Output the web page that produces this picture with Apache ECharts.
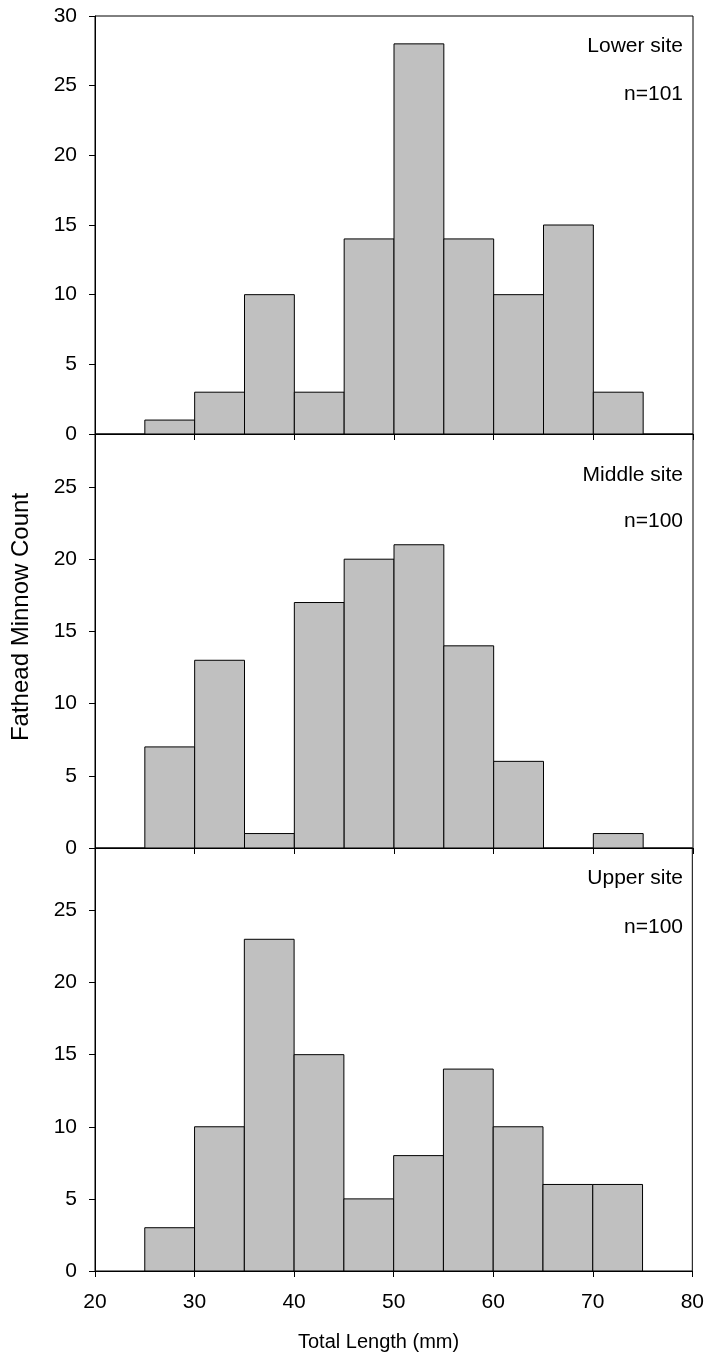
<!DOCTYPE html>
<html>
<head>
<meta charset="utf-8">
<script src="https://cdn.jsdelivr.net/npm/echarts@6/dist/echarts.min.js"></script>
<style>
html,body{margin:0;padding:0;background:#fff;}
#chart{width:707px;height:1360px;}
</style>
</head>
<body>
<div id="chart"></div>
<script>
// ---- data ----
const binStarts = [25, 30, 35, 40, 45, 50, 55, 60, 65, 70];
const binWidth = 5;
const lowerCounts  = [1, 3, 10, 3, 14, 28, 14, 10, 15, 3];
const middleCounts = [7, 13, 1, 17, 20, 21, 14, 6, 0, 1];
const upperCounts  = [3, 10, 23, 15, 5, 8, 14, 10, 6, 6];
const panelNames = ['Lower site', 'Middle site', 'Upper site'];
const panelN = ['n=101', 'n=100', 'n=100'];
const xTicks = [20, 30, 40, 50, 60, 70, 80];
const yMaxes = [30, 28.67, 29.33];

const FONT = '"Liberation Sans", Arial, Helvetica, sans-serif';
const FS = 21;

const grids = [
  {left: 95, right: 14, top: 16, height: 418},
  {left: 95, right: 14, top: 434, height: 414},
  {left: 95, right: 14, top: 848, height: 423}
].map(g => Object.assign(g, {show: true, borderColor: '#000', borderWidth: 1, backgroundColor: 'transparent'}));

const xAxes = grids.map((g, i) => ({
  type: 'value', gridIndex: i, min: xTicks[0], max: xTicks[xTicks.length - 1], interval: 10,
  axisLine: {show: true, onZero: false, lineStyle: {color: '#000', width: 1}},
  axisTick: {show: true, inside: false, length: 6, lineStyle: {color: '#000', width: 1}},
  axisLabel: {show: i === 2, color: '#000', fontSize: FS, fontFamily: FONT, margin: 21},
  splitLine: {show: false}
}));

const yAxes = grids.map((g, i) => ({
  type: 'value', gridIndex: i, min: 0, max: yMaxes[i], interval: 5,
  axisLine: {show: true, lineStyle: {color: '#000', width: 1}},
  axisTick: {show: true, inside: false, length: 6, lineStyle: {color: '#000', width: 1}},
  axisLabel: {show: true, color: '#000', fontSize: FS, fontFamily: FONT, margin: 18,
    formatter: v => (Math.abs(v % 5) < 1e-9 ? String(v) : ''),
    showMaxLabel: i === 0},
  splitLine: {show: false}
}));

function histSeries(counts, idx) {
  return {
    type: 'custom', xAxisIndex: idx, yAxisIndex: idx,
    data: binStarts.map((b, k) => [b, b + binWidth, counts[k]]),
    renderItem: function (params, api) {
      const c = api.value(2);
      if (!c) return null;
      const p0 = api.coord([api.value(0), c]);
      const p1 = api.coord([api.value(1), 0]);
      return {
        type: 'rect',
        shape: {x: p0[0], y: p0[1], width: p1[0] - p0[0], height: p1[1] - p0[1]},
        style: {fill: '#c0c0c0', stroke: '#000', lineWidth: 1}
      };
    },
    silent: true, animation: false
  };
}

const labelY = [[46, 94], [475, 521], [878, 927]];
const graphics = [];
panelNames.forEach((name, i) => {
  graphics.push({type: 'text', x: 683, y: labelY[i][0],
    style: {text: name, fill: '#000', font: '21px ' + FONT, textAlign: 'right', textVerticalAlign: 'middle'}});
  graphics.push({type: 'text', x: 683, y: labelY[i][1],
    style: {text: panelN[i], fill: '#000', font: '21px ' + FONT, textAlign: 'right', textVerticalAlign: 'middle'}});
});
graphics.push({type: 'text', x: 21, y: 617, rotation: Math.PI / 2,
  style: {text: 'Fathead Minnow Count', fill: '#000', font: '24px ' + FONT, textAlign: 'center', textVerticalAlign: 'middle'}});
graphics.push({type: 'text', x: 298, y: 1342,
  style: {text: 'Total Length (mm)', fill: '#000', font: '20px ' + FONT, textAlign: 'left', textVerticalAlign: 'middle'}});

const chart = echarts.init(document.getElementById('chart'), null, {renderer: 'canvas'});
chart.setOption({
  backgroundColor: '#fff',
  animation: false,
  grid: grids,
  xAxis: xAxes,
  yAxis: yAxes,
  series: [histSeries(lowerCounts, 0), histSeries(middleCounts, 1), histSeries(upperCounts, 2)],
  graphic: graphics
});
</script>
</body>
</html>
